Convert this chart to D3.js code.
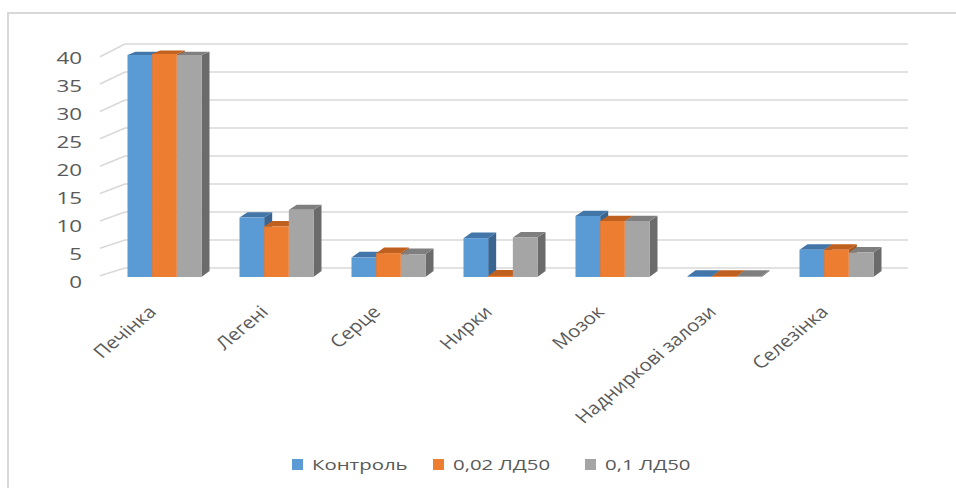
<!DOCTYPE html>
<html>
<head>
<meta charset="utf-8">
<script src="https://cdn.jsdelivr.net/npm/d3@7"></script>
<style>
  body { margin: 0; background: #fff; }
  svg { display: block; }
  text { font-family: "Open Sans", sans-serif; fill: #595959; }
</style>
</head>
<body>
<svg id="chart" width="956" height="488"></svg>
<script>
// Organs and groups
const categories = ["Печінка", "Легені", "Серце", "Нирки", "Мозок", "Надниркові залози", "Селезінка"];
const seriesNames = ["Контроль", "0,02 ЛД50", "0,1 ЛД50"];
const control = [40.0, 10.7, 3.5, 7.0, 11.0, 0.15, 4.9];
const dose002 = [40.2, 9.1, 4.3, 0.2, 10.1, 0.15, 4.9];
const dose01 = [40.0, 12.1, 4.1, 7.1, 10.1, 0.15, 4.4];
const tickValues = [0, 5, 10, 15, 20, 25, 30, 35, 40];

const seriesValues = [control, dose002, dose01];
const palette = [
  { front: "#5b9bd5", top: "#4275a8", side: "#3a6590" },
  { front: "#ed7d31", top: "#c0601f", side: "#a9561d" },
  { front: "#a5a5a5", top: "#7f7f7f", side: "#6b6b6b" }
];

const svg = d3.select("#chart");

// Scales
const x0 = d3.scaleBand().domain(categories).range([108.5, 892.5]);
const x1 = d3.scaleBand().domain(seriesNames).range([-37, 37]);
const yBar = d3.scaleLinear().domain([0, 40]).range([277, 55]);
const yBack = d3.scaleLinear().domain([0, 40]).range([268, 44]);
const yFront = d3.scaleLinear().domain([0, 40]).range([275.7, 56.7]);
const depthX = 8;
const depthY = d3.scaleLinear().domain([0, 40]).range([6, 3.3]);

// Chart frame
svg.append("rect")
  .attr("x", 8).attr("y", 13).attr("width", 1000).attr("height", 600)
  .attr("fill", "none").attr("stroke", "#d9d9d9").attr("stroke-width", 2);

// Back wall gridlines and side wall lines
const grid = svg.append("g").attr("stroke", "#d9d9d9").attr("stroke-width", 1.6).attr("fill", "none");
grid.selectAll("line.back").data(tickValues).join("line")
  .attr("class", "back")
  .attr("x1", 125).attr("x2", 908)
  .attr("y1", d => yBack(d)).attr("y2", d => yBack(d));
grid.selectAll("line.side").data(tickValues).join("line")
  .attr("class", "side")
  .attr("x1", 100).attr("x2", 125)
  .attr("y1", d => yFront(d)).attr("y2", d => yBack(d));

// Value axis labels
svg.append("g").selectAll("text").data(tickValues).join("text")
  .attr("transform", d => `translate(82,${yBack(d) + 14}) scale(1.4,1)`)
  .attr("text-anchor", "end").attr("dy", "0.36em")
  .style("font-size", "16px")
  .text(d => d);

// 3D columns
const bars = svg.append("g");
categories.forEach((cat, i) => {
  const cx = x0(cat) + x0.bandwidth() / 2;
  seriesNames.forEach((name, j) => {
    const v = seriesValues[j][i];
    const col = palette[j];
    const xl = cx + x1(name), w = x1.bandwidth();
    const yt = yBar(v), yb = yBar(0);
    const d = depthY(v), d0 = depthY(0);
    const g = bars.append("g");
    g.append("polygon")
      .attr("points", [[xl + w, yt], [xl + w + depthX, yt - d], [xl + w + depthX, yb - d0], [xl + w, yb]].join(" "))
      .attr("fill", col.side);
    g.append("polygon")
      .attr("points", [[xl, yt], [xl + depthX, yt - d], [xl + w + depthX, yt - d], [xl + w, yt]].join(" "))
      .attr("fill", col.top);
    g.append("rect")
      .attr("x", xl).attr("y", yt).attr("width", w).attr("height", yb - yt)
      .attr("fill", col.front);
  });
});

// Category labels
svg.append("g").selectAll("text").data(categories).join("text")
  .attr("transform", d => `translate(${x0(d) + x0.bandwidth() / 2 - 7},313) scale(1.2,1) rotate(-45)`)
  .attr("text-anchor", "end")
  .style("font-size", "17px")
  .text(d => d);

// Legend
const legendX = [292, 433, 585];
const legend = svg.append("g");
seriesNames.forEach((name, j) => {
  legend.append("rect")
    .attr("x", legendX[j]).attr("y", 459).attr("width", 11).attr("height", 11)
    .attr("fill", palette[j].front);
  legend.append("text")
    .attr("transform", `translate(${legendX[j] + 20},465) scale(1.36,1)`)
    .attr("dy", "0.36em")
    .style("font-size", "15px")
    .text(name);
});
</script>
</body>
</html>
